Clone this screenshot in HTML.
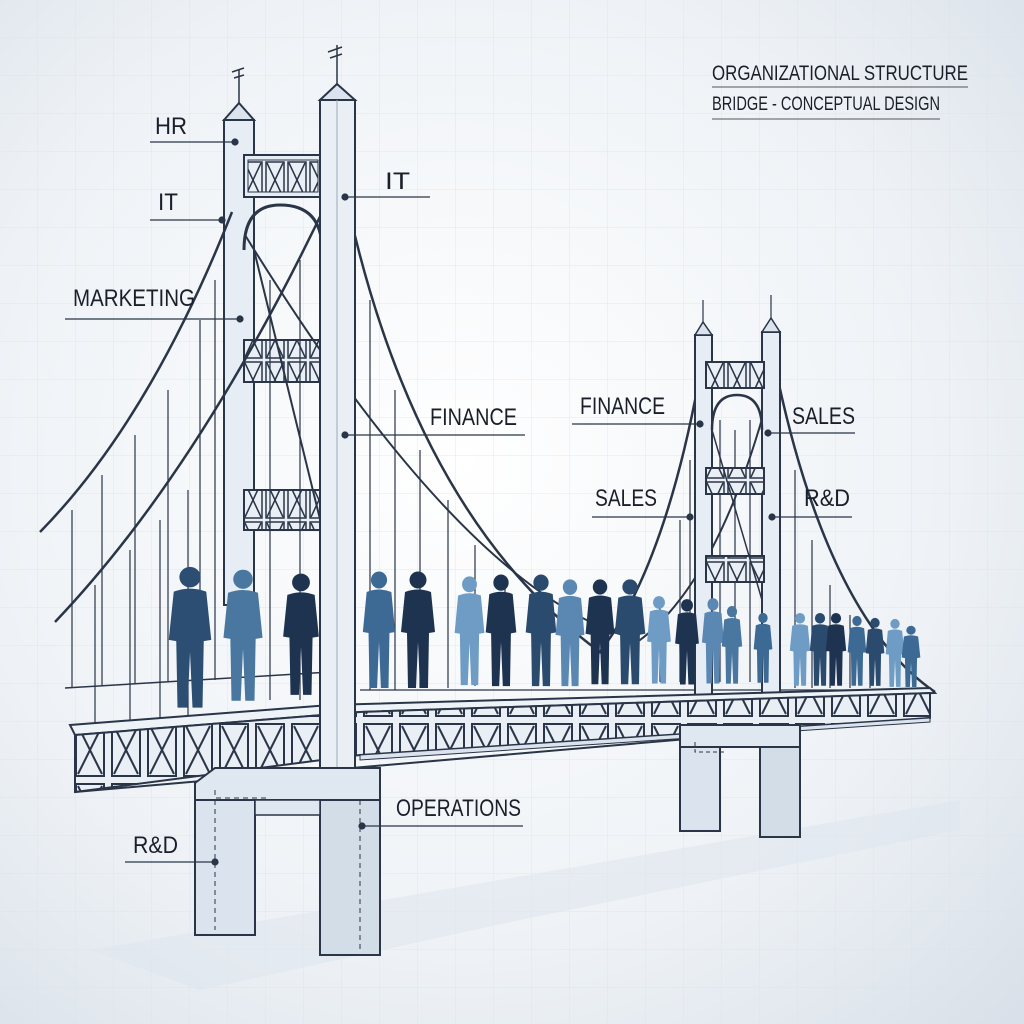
<!DOCTYPE html>
<html><head><meta charset="utf-8"><style>
html,body{margin:0;padding:0;width:1024px;height:1024px;overflow:hidden}
svg{display:block}
text{font-family:"Liberation Sans",sans-serif;fill:#1a1f2a}
</style></head><body>
<svg width="1024" height="1024" viewBox="0 0 1024 1024" xmlns="http://www.w3.org/2000/svg">
<defs>
<radialGradient id="bg" cx="0.45" cy="0.45" r="0.8">
<stop offset="0" stop-color="#ffffff"/><stop offset="0.6" stop-color="#eef2f6"/><stop offset="1" stop-color="#d6dee7"/>
</radialGradient>
<pattern id="grid" width="38" height="38" patternUnits="userSpaceOnUse">
<path d="M38 0V38H0" fill="none" stroke="#d9e1ea" stroke-width="1"/>
</pattern>
<pattern id="truss" width="36" height="60" patternUnits="userSpaceOnUse">
<rect x="0" y="0" width="36" height="60" fill="#e9eff5"/>
<rect x="4" y="4" width="28" height="52" fill="none" stroke="#2a3548" stroke-width="2"/>
<path d="M6 6L30 54M30 6L6 54" stroke="#2a3548" stroke-width="2"/>
</pattern>
<pattern id="truss2" width="22" height="40" patternUnits="userSpaceOnUse">
<rect width="22" height="40" fill="#e9eff5"/>
<rect x="2" y="2" width="18" height="36" fill="none" stroke="#2a3548" stroke-width="1.5"/>
<path d="M3 3L19 37M19 3L3 37" stroke="#2a3548" stroke-width="1.5"/>
</pattern>
<symbol id="p" viewBox="0 0 40 120" preserveAspectRatio="none">
<circle cx="20" cy="10" r="8.5"/>
<path d="M7 22Q20 17 33 22L37 62L31 63L30 118L22 118L20 72L18 118L10 118L9 63L3 62Z"/>
</symbol>
</defs>
<rect width="1024" height="1024" fill="url(#bg)"/>
<rect width="1024" height="1024" fill="url(#grid)" opacity="0.7"/>
<polygon points="90,950 500,880 960,800 960,830 520,920 200,990" fill="#dfe6ee" opacity="0.6"/>

<text x="712" y="80" font-size="21" textLength="256" lengthAdjust="spacingAndGlyphs">ORGANIZATIONAL STRUCTURE</text>
<line x1="712" y1="87" x2="968" y2="87" stroke="#555" stroke-width="1"/>
<text x="712" y="110" font-size="19" textLength="228" lengthAdjust="spacingAndGlyphs">BRIDGE - CONCEPTUAL DESIGN</text>
<line x1="712" y1="119" x2="940" y2="119" stroke="#555" stroke-width="1"/>

<!-- left back tower -->
<rect x="224" y="120" width="30" height="485" fill="#e6edf4" stroke="#2a3548" stroke-width="2"/>
<polygon points="224,120 239,103 254,120" fill="#dbe4ee" stroke="#2a3548" stroke-width="2"/>
<line x1="239" y1="103" x2="239" y2="70" stroke="#2a3548" stroke-width="1.5"/>
<path d="M232 72l12-4M234 78l10-3" stroke="#2a3548" stroke-width="1.5"/>
<rect x="244" y="155" width="78" height="42" fill="#e6edf4" stroke="#2a3548" stroke-width="2"/>
<rect x="248" y="160" width="70" height="32" fill="url(#truss2)" stroke="#2a3548"/>
<path d="M244 250Q244 205 280 205Q322 205 322 250" fill="none" stroke="#2a3548" stroke-width="3"/>
<rect x="244" y="340" width="78" height="42" fill="url(#truss2)" stroke="#2a3548" stroke-width="2"/>
<rect x="244" y="490" width="78" height="40" fill="url(#truss2)" stroke="#2a3548" stroke-width="2"/>
<line x1="254" y1="250" x2="330" y2="560" stroke="#2a3548" stroke-width="2"/>

<path d="M232 212Q150 420 40 532" fill="none" stroke="#2a3548" stroke-width="2.5"/>
<path d="M328 200Q200 470 55 622" fill="none" stroke="#2a3548" stroke-width="2.5"/>
<g stroke="#2a3548" stroke-width="1.2">
<line x1="72" y1="510" x2="72" y2="688"/><line x1="102" y1="475" x2="102" y2="686"/>
<line x1="135" y1="435" x2="135" y2="684"/><line x1="168" y1="390" x2="168" y2="682"/>
<line x1="200" y1="320" x2="200" y2="680"/><line x1="215" y1="280" x2="215" y2="680"/>
<line x1="95" y1="585" x2="95" y2="725"/><line x1="130" y1="550" x2="130" y2="722"/>
<line x1="160" y1="520" x2="160" y2="720"/><line x1="188" y1="490" x2="188" y2="718"/>
<line x1="270" y1="280" x2="270" y2="700"/><line x1="300" y1="260" x2="300" y2="700"/>
</g>
<line x1="65" y1="688" x2="330" y2="672" stroke="#2a3548" stroke-width="1.5"/>

<path d="M350 215Q420 520 600 652Q670 560 705 345" fill="none" stroke="#2a3548" stroke-width="2.5"/>
<path d="M245 235Q470 600 640 640Q720 580 770 390" fill="none" stroke="#2a3548" stroke-width="2"/>
<path d="M778 380Q830 620 935 692" fill="none" stroke="#2a3548" stroke-width="2.5"/>
<g stroke="#2a3548" stroke-width="1.2">
<line x1="370" y1="300" x2="370" y2="690"/><line x1="395" y1="390" x2="395" y2="690"/>
<line x1="420" y1="450" x2="420" y2="688"/><line x1="448" y1="500" x2="448" y2="688"/>
<line x1="475" y1="545" x2="475" y2="686"/><line x1="505" y1="580" x2="505" y2="686"/>
<line x1="535" y1="605" x2="535" y2="684"/><line x1="565" y1="625" x2="565" y2="684"/>
<line x1="660" y1="600" x2="660" y2="682"/><line x1="680" y1="520" x2="680" y2="682"/>
<line x1="690" y1="460" x2="690" y2="682"/><line x1="720" y1="420" x2="720" y2="682"/>
<line x1="735" y1="430" x2="735" y2="682"/><line x1="750" y1="420" x2="750" y2="682"/>
<line x1="795" y1="470" x2="795" y2="688"/><line x1="812" y1="540" x2="812" y2="688"/>
<line x1="830" y1="585" x2="830" y2="688"/><line x1="850" y1="615" x2="850" y2="688"/>
<line x1="870" y1="640" x2="870" y2="688"/>
</g>
<line x1="360" y1="690" x2="930" y2="690" stroke="#2a3548" stroke-width="1.2"/>

<!-- right towers -->
<rect x="695" y="335" width="17" height="390" fill="#e6edf4" stroke="#2a3548" stroke-width="2"/>
<polygon points="695,335 703,322 712,335" fill="#dbe4ee" stroke="#2a3548" stroke-width="1.5"/>
<line x1="703" y1="322" x2="703" y2="300" stroke="#2a3548" stroke-width="1.2"/>
<rect x="762" y="332" width="18" height="393" fill="#e6edf4" stroke="#2a3548" stroke-width="2"/>
<polygon points="762,332 771,318 780,332" fill="#dbe4ee" stroke="#2a3548" stroke-width="1.5"/>
<line x1="771" y1="318" x2="771" y2="295" stroke="#2a3548" stroke-width="1.2"/>
<rect x="706" y="362" width="58" height="26" fill="url(#truss2)" stroke="#2a3548" stroke-width="2"/>
<path d="M712 430Q712 395 737 395Q762 395 762 430" fill="none" stroke="#2a3548" stroke-width="2.5"/>
<rect x="706" y="468" width="58" height="26" fill="url(#truss2)" stroke="#2a3548" stroke-width="2"/>
<rect x="706" y="556" width="58" height="26" fill="url(#truss2)" stroke="#2a3548" stroke-width="2"/>
<line x1="712" y1="430" x2="762" y2="600" stroke="#2a3548" stroke-width="1.5"/>

<g>
<use href="#p" x="165" y="565" width="50" height="145" fill="#2c4e72"/>
<use href="#p" x="220" y="568" width="46" height="135" fill="#4a77a0"/>
<use href="#p" x="280" y="572" width="42" height="125" fill="#1e3350"/>
<use href="#p" x="360" y="570" width="38" height="120" fill="#3d6a95"/>
<use href="#p" x="398" y="570" width="40" height="120" fill="#1e3350"/>
<use href="#p" x="452" y="575" width="35" height="112" fill="#6e9cc4"/>
<use href="#p" x="483" y="573" width="36" height="115" fill="#1e3350"/>
<use href="#p" x="523" y="573" width="36" height="115" fill="#2a4a6e"/>
<use href="#p" x="553" y="578" width="34" height="110" fill="#5b88b2"/>
<use href="#p" x="583" y="578" width="34" height="108" fill="#1e3350"/>
<use href="#p" x="612" y="578" width="36" height="108" fill="#2a4a6e"/>
<use href="#p" x="645" y="595" width="28" height="90" fill="#6e9cc4"/>
<use href="#p" x="673" y="598" width="28" height="88" fill="#1e3350"/>
<use href="#p" x="700" y="597" width="26" height="88" fill="#5b88b2"/>
<use href="#p" x="720" y="605" width="24" height="80" fill="#4a77a0"/>
<use href="#p" x="752" y="612" width="22" height="72" fill="#3d6a95"/>
<use href="#p" x="788" y="612" width="24" height="75" fill="#6e9cc4"/>
<use href="#p" x="808" y="612" width="24" height="75" fill="#2a4a6e"/>
<use href="#p" x="824" y="612" width="24" height="75" fill="#1e3350"/>
<use href="#p" x="846" y="615" width="22" height="72" fill="#3d6a95"/>
<use href="#p" x="864" y="617" width="22" height="70" fill="#2a4a6e"/>
<use href="#p" x="884" y="618" width="22" height="70" fill="#6e9cc4"/>
<use href="#p" x="900" y="625" width="22" height="63" fill="#3d6a95"/>
</g>

<polygon points="70,725 330,705 930,688 935,693 360,712 75,735" fill="#eef3f8" stroke="#2a3548" stroke-width="2"/>
<polygon points="75,735 360,712 930,693 930,718 360,755 75,792" fill="url(#truss)" stroke="#2a3548" stroke-width="2"/>
<line x1="75" y1="792" x2="930" y2="718" stroke="#2a3548" stroke-width="2"/>
<polygon points="360,755 930,718 930,722 360,760" fill="#dbe4ee" stroke="#2a3548" stroke-width="1"/>

<rect x="680" y="725" width="120" height="22" fill="#dfe7f0" stroke="#2a3548" stroke-width="2"/>
<rect x="680" y="747" width="40" height="84" fill="#dbe4ee" stroke="#2a3548" stroke-width="2"/>
<rect x="760" y="747" width="40" height="90" fill="#d3dde8" stroke="#2a3548" stroke-width="2"/>
<path d="M695 742v10h30" fill="none" stroke="#2a3548" stroke-dasharray="4 3"/>

<rect x="320" y="100" width="35" height="670" fill="#e9eff5" stroke="#2a3548" stroke-width="2"/>
<polygon points="320,100 337,84 355,100" fill="#dbe4ee" stroke="#2a3548" stroke-width="2"/>
<line x1="337" y1="84" x2="337" y2="45" stroke="#2a3548" stroke-width="1.5"/>
<path d="M328 52l14-5M330 58l12-4" stroke="#2a3548" stroke-width="1.5"/>
<line x1="337" y1="100" x2="337" y2="770" stroke="#9aa8b8" stroke-width="1"/>

<polygon points="195,783 215,768 380,768 380,800 195,800" fill="#dfe7f0" stroke="#2a3548" stroke-width="2"/>
<rect x="195" y="800" width="60" height="135" fill="#dbe4ee" stroke="#2a3548" stroke-width="2"/>
<rect x="320" y="800" width="60" height="155" fill="#d3dde8" stroke="#2a3548" stroke-width="2"/>
<rect x="255" y="800" width="65" height="15" fill="#dfe7f0" stroke="#2a3548" stroke-width="1.5"/>
<path d="M215 790v8h55" fill="none" stroke="#2a3548" stroke-dasharray="5 4"/>
<path d="M215 800v130M360 800v150" stroke="#2a3548" stroke-dasharray="5 4"/>

<g font-size="24" lengthAdjust="spacingAndGlyphs">
<text x="155" y="134" textLength="32" lengthAdjust="spacingAndGlyphs">HR</text>
<text x="158" y="210" textLength="20" lengthAdjust="spacingAndGlyphs">IT</text>
<text x="73" y="306" textLength="122" lengthAdjust="spacingAndGlyphs">MARKETING</text>
<text x="385" y="189" textLength="25" lengthAdjust="spacingAndGlyphs">IT</text>
<text x="430" y="425" textLength="87" lengthAdjust="spacingAndGlyphs">FINANCE</text>
<text x="580" y="414" textLength="85" lengthAdjust="spacingAndGlyphs">FINANCE</text>
<text x="595" y="506" textLength="62" lengthAdjust="spacingAndGlyphs">SALES</text>
<text x="792" y="424" textLength="63" lengthAdjust="spacingAndGlyphs">SALES</text>
<text x="804" y="506" textLength="46" lengthAdjust="spacingAndGlyphs">R&amp;D</text>
<text x="396" y="816" textLength="125" lengthAdjust="spacingAndGlyphs">OPERATIONS</text>
<text x="133" y="853" textLength="45" lengthAdjust="spacingAndGlyphs">R&amp;D</text>
</g>
<g stroke="#2a3548" stroke-width="1.2" fill="#2a3548">
<line x1="150" y1="142" x2="235" y2="142"/><circle cx="235" cy="142" r="3"/>
<line x1="150" y1="220" x2="222" y2="220"/><circle cx="222" cy="220" r="3"/>
<line x1="65" y1="319" x2="240" y2="319"/><circle cx="240" cy="319" r="3"/>
<line x1="345" y1="197" x2="430" y2="197"/><circle cx="345" cy="197" r="3"/>
<line x1="345" y1="435" x2="525" y2="435"/><circle cx="345" cy="435" r="3"/>
<line x1="572" y1="424" x2="700" y2="424"/><circle cx="700" cy="424" r="3"/>
<line x1="592" y1="517" x2="690" y2="517"/><circle cx="690" cy="517" r="3"/>
<line x1="768" y1="433" x2="855" y2="433"/><circle cx="768" cy="433" r="3"/>
<line x1="772" y1="517" x2="852" y2="517"/><circle cx="772" cy="517" r="3"/>
<line x1="362" y1="826" x2="523" y2="826"/><circle cx="362" cy="826" r="3"/>
<line x1="125" y1="862" x2="215" y2="862"/><circle cx="215" cy="862" r="3"/>
</g>
</svg>
</body></html>
